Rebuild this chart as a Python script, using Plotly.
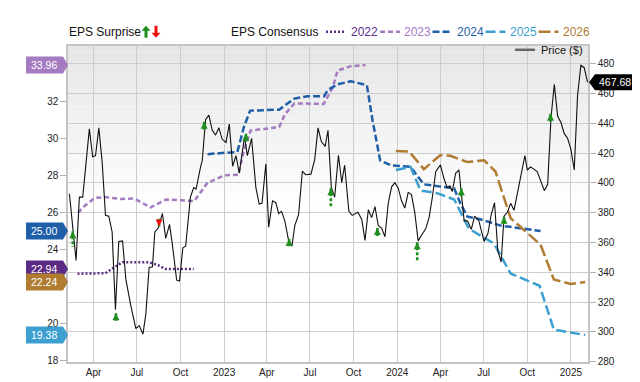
import plotly.graph_objects as go

# ---------------- data ----------------
price_dates = [
    "2022-02-09", "2022-02-23", "2022-03-02", "2022-03-09", "2022-03-23", "2022-03-30", "2022-04-05", "2022-04-12",
    "2022-04-19", "2022-04-26", "2022-05-03", "2022-05-10", "2022-05-17", "2022-05-24", "2022-06-01", "2022-06-08",
    "2022-06-18", "2022-06-29", "2022-07-06", "2022-07-14", "2022-07-20", "2022-07-27", "2022-08-03", "2022-08-08",
    "2022-08-15", "2022-08-24", "2022-08-31", "2022-09-08", "2022-09-14", "2022-09-23", "2022-09-29", "2022-10-06",
    "2022-10-12", "2022-10-22", "2022-10-29", "2022-11-03", "2022-11-12", "2022-11-16", "2022-11-23", "2022-11-30",
    "2022-12-07", "2022-12-14", "2022-12-21", "2022-12-28", "2023-01-05", "2023-01-12", "2023-01-19", "2023-01-26",
    "2023-02-02", "2023-02-13", "2023-02-19", "2023-02-28", "2023-03-09", "2023-03-16", "2023-03-22", "2023-03-30",
    "2023-04-05", "2023-04-13", "2023-04-20", "2023-04-26", "2023-05-02", "2023-05-09", "2023-05-16", "2023-05-24",
    "2023-05-30", "2023-06-07", "2023-06-15", "2023-06-22", "2023-07-03", "2023-07-11", "2023-07-18", "2023-07-25",
    "2023-08-02", "2023-08-08", "2023-08-15", "2023-08-22", "2023-08-30", "2023-09-06", "2023-09-12", "2023-09-21",
    "2023-09-28", "2023-10-10", "2023-10-18", "2023-10-25", "2023-11-01", "2023-11-08", "2023-11-15", "2023-11-22",
    "2023-11-29", "2023-12-06", "2023-12-13", "2023-12-20", "2023-12-27", "2024-01-03", "2024-01-10", "2024-01-17",
    "2024-01-24", "2024-01-31", "2024-02-07", "2024-02-14", "2024-02-21", "2024-03-01", "2024-03-08", "2024-03-15",
    "2024-03-22", "2024-04-01", "2024-04-08", "2024-04-15", "2024-04-21", "2024-04-26", "2024-05-03", "2024-05-10",
    "2024-05-21", "2024-05-28", "2024-06-05", "2024-06-12", "2024-06-21", "2024-07-02", "2024-07-10", "2024-07-17",
    "2024-07-24", "2024-07-31", "2024-08-07", "2024-08-13", "2024-08-20", "2024-08-27", "2024-09-03", "2024-09-10",
    "2024-09-18", "2024-09-26", "2024-10-01", "2024-10-08", "2024-10-22", "2024-10-30", "2024-11-06", "2024-11-13",
    "2024-11-20", "2024-11-27", "2024-12-04", "2024-12-11", "2024-12-18", "2024-12-25", "2025-01-01", "2025-01-08",
    "2025-01-15", "2025-01-22", "2025-01-29", "2025-02-05",
]
price_values = [
    392.7, 347.9, 390.5, 390.5, 436.3, 417.6, 418.3, 437.0,
    414.0, 378.2, 377.7, 367.1, 314.9, 360.7, 361.1, 335.2,
    318.1, 302.1, 304.2, 298.5, 311.7, 343.2, 343.7, 367.1,
    369.7, 379.5, 362.8, 372.2, 358.6, 334.7, 334.1, 356.4,
    357.5, 390.5, 396.9, 395.9, 410.1, 415.1, 442.7, 445.5,
    435.3, 432.1, 437.0, 429.3, 427.2, 439.5, 411.2, 418.3,
    406.5, 431.0, 418.3, 430.0, 396.9, 385.8, 386.3, 412.9,
    370.3, 388.0, 386.7, 379.5, 380.9, 374.5, 362.8, 357.5,
    371.3, 378.8, 408.0, 405.5, 405.9, 415.7, 437.0, 427.8,
    424.6, 435.3, 396.9, 390.5, 418.6, 400.1, 411.9, 380.9,
    378.2, 380.3, 375.6, 361.4, 382.0, 376.7, 384.1, 371.3,
    369.7, 363.9, 386.3, 397.4, 400.1, 396.5, 388.0, 383.1,
    393.7, 392.2, 379.9, 361.1, 364.9, 369.2, 376.7, 390.5,
    407.6, 412.2, 403.3, 396.9, 398.0, 394.3, 406.5, 408.7,
    374.5, 374.5, 368.8, 377.7, 374.5, 360.7, 366.0, 378.8,
    386.7, 354.3, 346.9, 377.7, 380.3, 386.3, 381.6, 392.7,
    405.5, 418.3, 408.7, 410.8, 407.6, 400.1, 394.8, 399.1,
    443.8, 466.2, 444.8, 440.6, 433.1, 430.0, 422.5, 408.7,
    458.7, 479.0, 477.4, 467.68,
]

eps2022_dates = ["2022-02-26", "2022-04-26", "2022-05-15", "2022-06-01", "2022-07-27", "2022-08-15", "2022-08-31", "2022-10-29"]
eps2022_values = [22.69, 22.72, 23.05, 23.31, 23.31, 23.15, 22.94, 22.94]

eps2023_dates = ["2022-02-27", "2022-03-13", "2022-04-03", "2022-04-24", "2022-05-29", "2022-06-26", "2022-07-30",
                 "2022-09-01", "2022-10-02", "2022-10-30", "2022-11-27", "2023-01-01", "2023-01-31", "2023-02-12",
                 "2023-02-26", "2023-04-27", "2023-05-09", "2023-05-29", "2023-07-30", "2023-08-18", "2023-08-28",
                 "2023-09-25", "2023-10-26"]
eps2023_values = [25.98, 26.35, 26.78, 26.83, 26.73, 26.75, 26.27,
                  26.70, 26.66, 26.61, 27.60, 28.00, 28.04, 29.40,
                  30.43, 30.61, 31.29, 31.89, 31.86, 32.75, 33.66,
                  33.90, 33.96]

eps2024_dates = ["2022-11-27", "2023-01-29", "2023-02-12", "2023-02-25", "2023-04-27", "2023-05-29", "2023-06-26",
                 "2023-07-31", "2023-08-07", "2023-08-28", "2023-09-25", "2023-10-29", "2023-11-10", "2023-11-26",
                 "2023-12-18", "2024-01-29", "2024-02-26", "2024-04-01", "2024-04-30", "2024-05-13", "2024-05-28",
                 "2024-06-24", "2024-08-06", "2024-10-29"]
eps2024_values = [29.15, 29.27, 30.64, 31.50, 31.55, 32.15, 32.28,
                  32.28, 32.60, 32.92, 33.09, 32.87, 30.95, 28.81,
                  28.55, 28.46, 27.52, 27.38, 27.30, 26.49, 25.77,
                  25.63, 25.29, 25.00]

eps2025_dates = ["2023-12-29", "2024-01-29", "2024-02-19", "2024-03-25", "2024-04-30", "2024-05-31", "2024-07-23",
                 "2024-08-27", "2024-10-27", "2024-11-26", "2025-01-31"]
eps2025_values = [28.29, 28.46, 27.18, 27.04, 26.70, 25.12, 24.32, 22.70, 22.04, 19.67, 19.38]

eps2026_dates = ["2023-12-29", "2024-01-26", "2024-02-26", "2024-04-01", "2024-04-22", "2024-05-28", "2024-07-02",
                 "2024-07-26", "2024-08-27", "2024-10-29", "2024-11-26", "2024-12-31", "2025-01-31"]
eps2026_values = [29.32, 29.29, 28.34, 29.10, 29.06, 28.72, 28.82, 28.21, 25.69, 24.26, 22.38, 22.14, 22.24]

surprise_dates = ["2022-02-16", "2022-05-18", "2022-08-17", "2022-11-20", "2023-02-16", "2023-05-18",
                  "2023-08-14", "2023-11-20", "2024-02-12", "2024-05-15", "2024-08-13", "2024-11-19"]
surprise_direction = ["up", "up", "down", "up", "up", "up", "up", "up", "up", "up", "up", "up"]
surprise_tip = [367.5, 312.5, 370.7, 441.1, 433.1, 362.4, 396.5, 369.7, 360.1, 396.5, 377.3, 446.4]
surprise_tail = [356.9, 307.4, 375.9, 435.7, 427.8, 357.5, 383.7, 364.3, 347.9, 391.0, 372.4, 441.3]

x_tick_dates = ["2022-04-01", "2022-07-01", "2022-10-01", "2023-01-01", "2023-04-01", "2023-07-01",
                "2023-10-01", "2024-01-01", "2024-04-01", "2024-07-01", "2024-10-01", "2025-01-01"]
x_tick_labels = ["Apr", "Jul", "Oct", "2023", "Apr", "Jul", "Oct", "2024", "Apr", "Jul", "Oct", "2025"]
# 22 and 34 are hidden behind the value badges in the reference
eps_ticks = [18, 20, 24, 26, 28, 30, 32]

# ---------------- styles ----------------
FONT = "Liberation Sans, Arial, Helvetica, sans-serif"
W, H = 640, 382
ML, MR, MT, MB = 60, 60, 38, 12
PW, PH = W - ML - MR, H - MT - MB

def pxx(px):
    return (px - ML) / PW

def pxy(py):
    return (H - MB - py) / PH

series = [
    ("2022", eps2022_dates, eps2022_values, "#5b2c86", "2px,2px", 342, 318),
    ("2023", eps2023_dates, eps2023_values, "#a57bc2", "5px,3px", 395, 372),
    ("2024", eps2024_dates, eps2024_values, "#1f5fa8", "7px,3px", 448, 424.5),
    ("2025", eps2025_dates, eps2025_values, "#3c9fd0", "10px,4px", 501, 477.5),
    ("2026", eps2026_dates, eps2026_values, "#b07c32", "12px,4px", 554, 530.5),
]

fig = go.Figure()
shapes = []
annotations = []

# plot background gradient
N = 30
for i in range(N):
    g = int(round(229 + (255 - 229) * (i + 0.5) / N))
    shapes.append(dict(type="rect", xref="paper", yref="paper", x0=0, x1=1,
                       y0=1 - (i + 1) * 0.52 / N, y1=1 - i * 0.52 / N,
                       fillcolor=f"rgb({g},{g},{g})", line=dict(width=0), layer="below"))

for name, d, v, col, dash, tx, sx in series:
    fig.add_trace(go.Scatter(x=d, y=v, mode="lines", yaxis="y", name=name,
                             line=dict(color=col, width=2.5, dash=dash), hoverinfo="skip"))

fig.add_trace(go.Scatter(x=price_dates, y=price_values, mode="lines", yaxis="y2", name="Price ($)",
                         line=dict(color="#111111", width=1.1), hoverinfo="skip"))

# surprise stems
stem_x, stem_y = [], []
for d, t, b in zip(surprise_dates, surprise_tip, surprise_tail):
    stem_x += [d, d, None]
    stem_y += [t, b, None]
fig.add_trace(go.Scatter(x=stem_x, y=stem_y, mode="lines", yaxis="y2",
                         line=dict(color="#1f8f1f", width=2.6, dash="3px,2px"), hoverinfo="skip"))
up = [i for i, s in enumerate(surprise_direction) if s == "up"]
dn = [i for i, s in enumerate(surprise_direction) if s == "down"]
fig.add_trace(go.Scatter(x=[surprise_dates[i] for i in up], y=[surprise_tip[i] for i in up],
                         mode="markers", yaxis="y2",
                         marker=dict(symbol="arrow-up", size=7, color="#1f8f1f", line=dict(width=0)),
                         hoverinfo="skip"))
fig.add_trace(go.Scatter(x=[surprise_dates[i] for i in dn], y=[surprise_tip[i] for i in dn],
                         mode="markers", yaxis="y2",
                         marker=dict(symbol="arrow-down", size=7, color="#ee1111", line=dict(width=0)),
                         hoverinfo="skip"))

# ---------------- legend (manual) ----------------
LY = 23
annotations.append(dict(text="EPS Surprise", x=pxx(59), y=pxy(LY), xref="paper", yref="paper",
                        xanchor="left", yanchor="middle", showarrow=False,
                        font=dict(family=FONT, size=12, color="#111")))
shapes.append(dict(type="path", xref="paper", yref="paper", xsizemode="pixel", ysizemode="pixel",
                   xanchor=pxx(138), yanchor=pxy(LY),
                   path="M0,6 L-4.5,1 L-1.5,1 L-1.5,-6 L1.5,-6 L1.5,1 L4.5,1 Z",
                   fillcolor="#1f8f1f", line=dict(width=0), layer="above"))
shapes.append(dict(type="path", xref="paper", yref="paper", xsizemode="pixel", ysizemode="pixel",
                   xanchor=pxx(148), yanchor=pxy(LY),
                   path="M0,-6 L-4.5,-1 L-1.5,-1 L-1.5,6 L1.5,6 L1.5,-1 L4.5,-1 Z",
                   fillcolor="#ee1111", line=dict(width=0), layer="above"))
annotations.append(dict(text="EPS Consensus", x=pxx(221), y=pxy(LY), xref="paper", yref="paper",
                        xanchor="left", yanchor="middle", showarrow=False,
                        font=dict(family=FONT, size=12, color="#111")))
for name, d, v, col, dash, tx, sx in series:
    shapes.append(dict(type="line", xref="paper", yref="paper", x0=pxx(sx), x1=pxx(sx + 20),
                       y0=pxy(LY), y1=pxy(LY), line=dict(color=col, width=2.5, dash=dash)))
    annotations.append(dict(text=name, x=pxx(tx - 1), y=pxy(LY), xref="paper", yref="paper",
                            xanchor="left", yanchor="middle", showarrow=False,
                            font=dict(family=FONT, size=12, color=col)))
shapes.append(dict(type="line", xref="paper", yref="paper", x0=pxx(507), x1=pxx(527),
                   y0=pxy(42), y1=pxy(42), line=dict(color="#666666", width=2.5)))
annotations.append(dict(text="Price ($)", x=pxx(531), y=pxy(42), xref="paper", yref="paper",
                        xanchor="left", yanchor="middle", showarrow=False,
                        font=dict(family=FONT, size=11, color="#111")))

# ---------------- badges ----------------
for name, d, v, col, dash, tx, sx in series:
    last = v[-1]
    shapes.append(dict(type="path", xref="paper", yref="y", xsizemode="pixel", ysizemode="pixel",
                       xanchor=0, yanchor=last,
                       path="M-42,-8.5 L-5,-8.5 L0,0 L-5,8.5 L-42,8.5 Z",
                       fillcolor=col, line=dict(width=0), layer="above"))
    annotations.append(dict(text=f"{last:.2f}", x=0, xshift=-24, y=last, xref="paper", yref="y",
                            xanchor="center", yanchor="middle", showarrow=False,
                            font=dict(family=FONT, size=10.5, color="white")))
last_price = price_values[-1]
shapes.append(dict(type="path", xref="paper", yref="y2", xsizemode="pixel", ysizemode="pixel",
                   xanchor=1, yanchor=last_price,
                   path="M1,0 L7,-8 L48,-8 L48,8 L7,8 Z",
                   fillcolor="#000000", line=dict(width=0), layer="above"))
annotations.append(dict(text=f"{last_price:.2f}", x=1, xshift=27, y=last_price, xref="paper", yref="y2",
                        xanchor="center", yanchor="middle", showarrow=False,
                        font=dict(family=FONT, size=10.5, color="white")))

GRID = "#cdcdcd"
fig.update_layout(
    width=W, height=H,
    margin=dict(l=ML, r=MR, t=MT, b=MB, pad=0),
    paper_bgcolor="white", plot_bgcolor="white",
    showlegend=False,
    font=dict(family=FONT, size=10, color="#222"),
    shapes=shapes, annotations=annotations,
    xaxis=dict(type="date", range=["2022-02-06", "2025-02-06"], tickvals=x_tick_dates, ticktext=x_tick_labels,
               showgrid=True, gridcolor=GRID, gridwidth=1, showline=True, linecolor="#c4c4c4", linewidth=1.5,
               mirror=True, ticks="", zeroline=False, tickfont=dict(family=FONT, size=10, color="#222")),
    yaxis=dict(range=[17.923, 34.99], tickvals=eps_ticks, showgrid=False, zeroline=False,
               showline=True, linecolor="#c4c4c4", linewidth=1.5, ticks="outside", ticklen=6,
               tickcolor="#b0b0b0", tickfont=dict(family=FONT, size=10, color="#222")),
    yaxis2=dict(range=[279.74, 491.96], overlaying="y", side="right", tick0=280, dtick=20,
                showgrid=True, gridcolor=GRID, gridwidth=1, zeroline=False,
                showline=True, linecolor="#c4c4c4", linewidth=1.5, ticks="outside", ticklen=6,
                tickcolor="#b0b0b0", tickfont=dict(family=FONT, size=10, color="#222")),
)

fig.write_html("out.html")
